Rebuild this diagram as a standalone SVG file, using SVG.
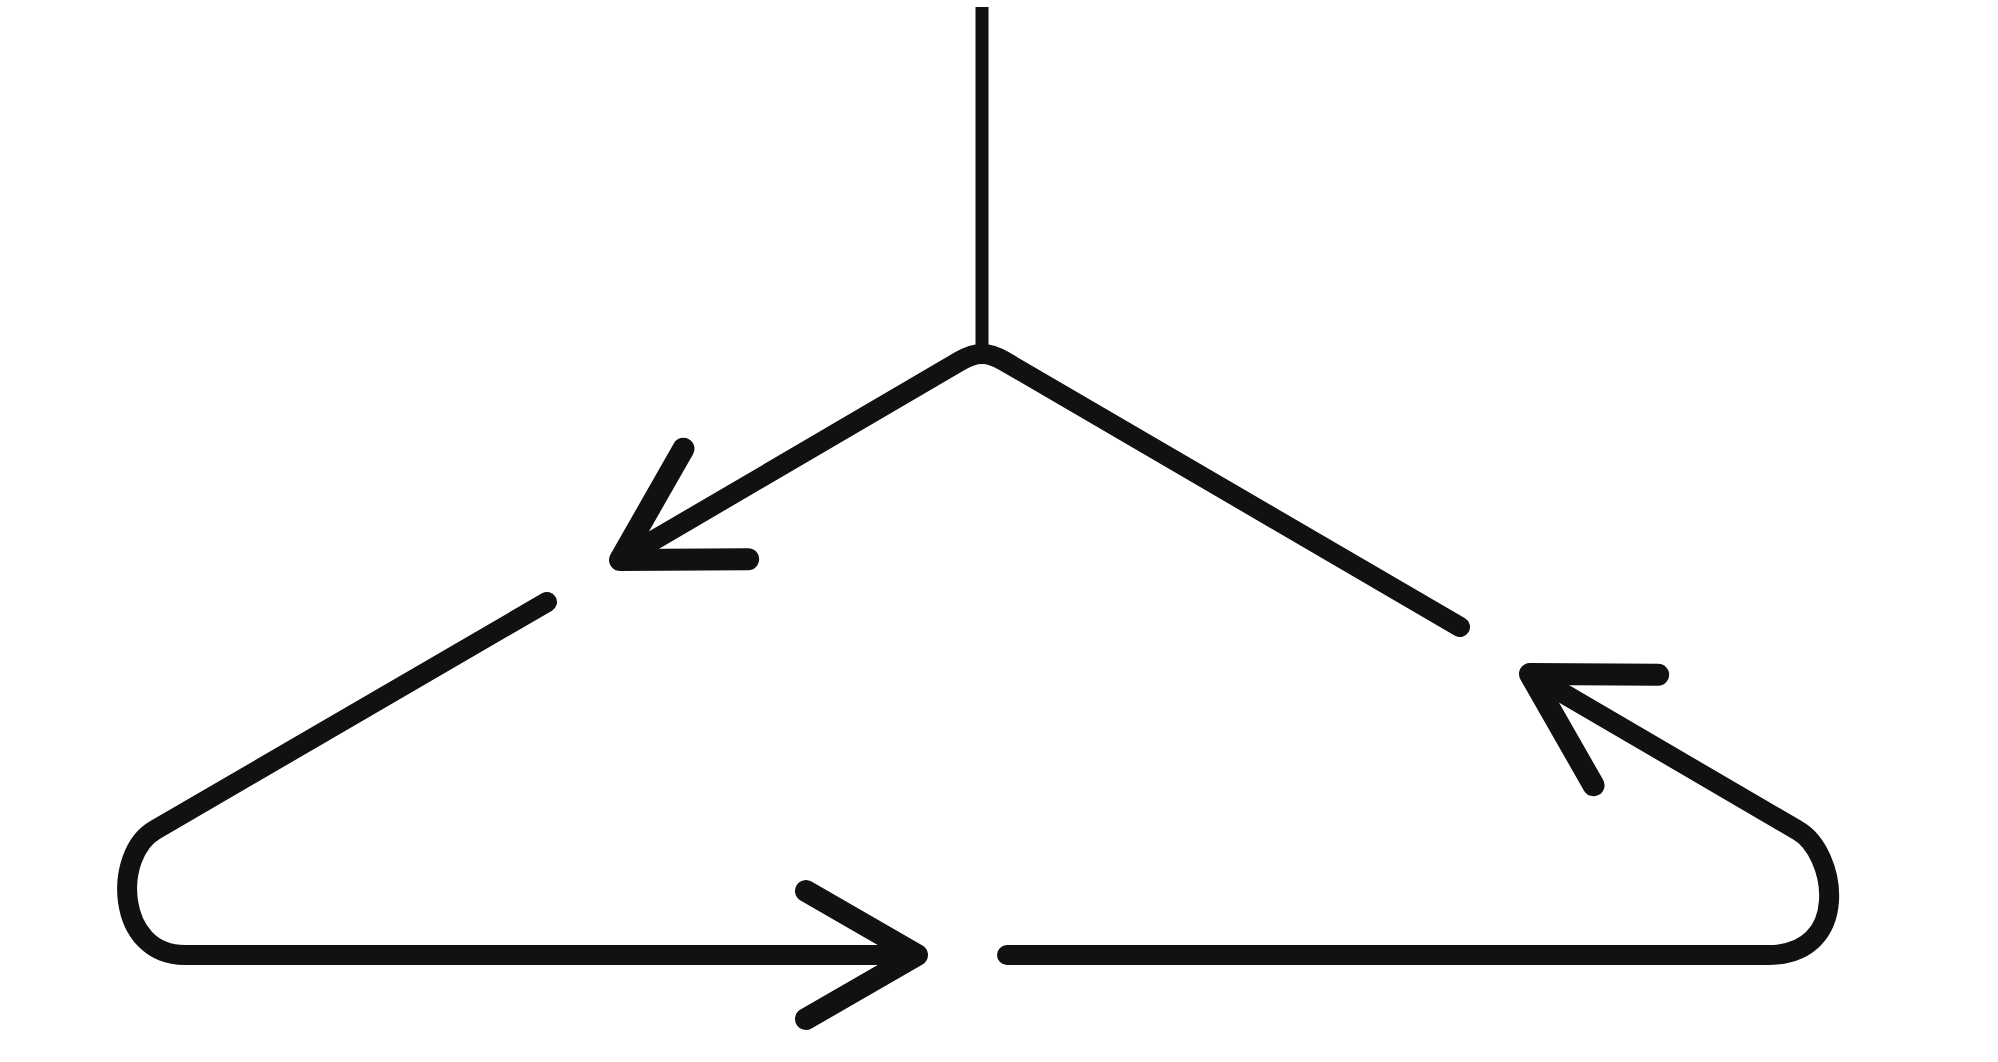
<svg xmlns="http://www.w3.org/2000/svg" width="1998" height="1062" viewBox="0 0 1998 1062">
  <style>
    .line { fill: none; stroke: #111; stroke-width: 20; stroke-linecap: round; stroke-linejoin: round; }
    .thin { fill: none; stroke: #111; stroke-width: 13; stroke-linecap: butt; }
  </style>
  <defs>
    <marker id="arrow" markerUnits="userSpaceOnUse" markerWidth="300" markerHeight="300" refX="0" refY="0" orient="auto" overflow="visible" viewBox="-150 -150 300 300">
      <path d="M-111,-64 L0,0 L-111,64" fill="none" stroke="#111" stroke-width="22" stroke-linecap="round" stroke-linejoin="round"/>
    </marker>
  </defs>
  <rect x="0" y="0" width="1998" height="1062" fill="#ffffff"/>
  <g id="connectors">
    <path id="stem" class="thin" d="M982,7 L982,358"/>
    <path id="to-left" class="line" d="M982,354 Q972,354 960,361 L620,560" marker-end="url(#arrow)"/>
    <path id="from-right" class="line" d="M982,354 Q992,354 1004,361 L1460,627"/>
    <path id="left-loop" class="line" d="M547,602 L155,830 C113,854 115,955 185,955 L917,955" marker-end="url(#arrow)"/>
    <path id="right-loop" class="line" d="M1007,955 L1768,955 C1852,955 1837,852 1797,830 L1530,674" marker-end="url(#arrow)"/>
  </g>
</svg>
